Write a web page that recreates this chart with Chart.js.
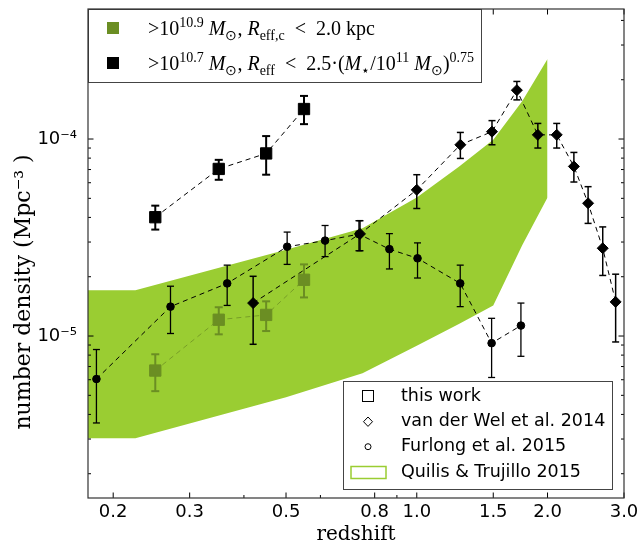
<!DOCTYPE html>
<html>
<head>
<meta charset="utf-8">
<script src="https://cdn.jsdelivr.net/npm/chart.js@4/dist/chart.umd.min.js"></script>
<style>
  html, body { margin: 0; padding: 0; background: #fff; }
</style>
</head>
<body>
<canvas id="myChart" width="640" height="547"></canvas>
<script>
// this work, > 10^10.7 Msun, Reff < 2.5 (M/1e11)^0.75
var workZ = [0.25, 0.35, 0.45, 0.55];
var workN = [4.01e-5, 7.05e-5, 8.45e-5, 1.42e-4];
var workLo = [3.47e-5, 6.21e-5, 6.59e-5, 1.19e-4];
var workHi = [4.59e-5, 7.84e-5, 1.035e-4, 1.655e-4];

// this work, > 10^10.9 Msun, Reff,c < 2 kpc
var massZ = [0.25, 0.35, 0.45, 0.55];
var massN = [6.68e-6, 1.21e-5, 1.28e-5, 1.93e-5];
var massLo = [5.25e-6, 1.02e-5, 1.06e-5, 1.57e-5];
var massHi = [8.08e-6, 1.40e-5, 1.50e-5, 2.31e-5];

// van der Wel et al. 2014
var vdwZ = [0.42, 0.74, 1.0, 1.26, 1.49, 1.70, 1.90, 2.10, 2.30, 2.48, 2.68, 2.87];
var vdwN = [1.47e-5, 3.30e-5, 5.52e-5, 9.35e-5, 1.09e-4, 1.77e-4, 1.05e-4, 1.05e-4, 7.26e-5, 4.72e-5, 2.79e-5, 1.49e-5];
var vdwLo = [9.08e-6, 2.71e-5, 4.44e-5, 7.97e-5, 9.35e-5, 1.58e-4, 9.0e-5, 9.0e-5, 6.05e-5, 3.73e-5, 2.03e-5, 9.33e-6];
var vdwHi = [2.01e-5, 3.85e-5, 6.59e-5, 1.08e-4, 1.24e-4, 1.96e-4, 1.20e-4, 1.20e-4, 8.55e-5, 5.73e-5, 3.58e-5, 2.06e-5];

// Furlong et al. 2015 (EAGLE)
var furZ = [0.183, 0.271, 0.366, 0.503, 0.615, 0.736, 0.865, 1.004, 1.259, 1.487, 1.737];
var furN = [6.05e-6, 1.41e-5, 1.85e-5, 2.84e-5, 3.05e-5, 3.29e-5, 2.76e-5, 2.48e-5, 1.85e-5, 9.2e-6, 1.13e-5];
var furLo = [3.62e-6, 1.03e-5, 1.43e-5, 2.31e-5, 2.53e-5, 2.71e-5, 2.19e-5, 1.97e-5, 1.41e-5, 6.16e-6, 7.89e-6];
var furHi = [8.54e-6, 1.79e-5, 2.29e-5, 3.37e-5, 3.64e-5, 3.85e-5, 3.31e-5, 2.97e-5, 2.29e-5, 1.23e-5, 1.47e-5];

// Quilis & Trujillo 2015 band
var qtZ = [0.1, 0.225, 0.5, 0.75, 1.0, 1.25, 1.5, 1.75, 2.0];
var qtHi = [1.71e-5, 1.71e-5, 2.74e-5, 3.52e-5, 5.05e-5, 7.24e-5, 9.92e-5, 1.56e-4, 2.55e-4];
var qtLo = [3.03e-6, 3.03e-6, 4.89e-6, 6.47e-6, 8.92e-6, 1.15e-5, 1.43e-5, 2.9e-5, 5.05e-5];

var xTicks = [0.2, 0.3, 0.5, 0.8, 1.0, 1.5, 2.0, 3.0];
var xTickLabels = ['0.2', '0.3', '0.5', '0.8', '1.0', '1.5', '2.0', '3.0'];
var xMinor = [0.4, 0.6, 0.9];
var yTicks = [1e-5, 1e-4];
var yTickLabels = ['10\u207B\u2075', '10\u207B\u2074'];

function pts(xs, ys) {
  return xs.map(function (x, i) { return { x: x, y: ys[i] }; });
}

var olive = '#6b8e23';
var band = '#9acd32';

var errSets = [
  { z: furZ, lo: furLo, hi: furHi, color: '#000', lw: 1.3, cap: 3.5 },
  { z: vdwZ, lo: vdwLo, hi: vdwHi, color: '#000', lw: 1.5, cap: 3.5 },
  { z: massZ, lo: massLo, hi: massHi, color: olive, lw: 2, cap: 4 },
  { z: workZ, lo: workLo, hi: workHi, color: '#000', lw: 2, cap: 4 }
];

function line(ctx, x1, y1, x2, y2) {
  ctx.beginPath(); ctx.moveTo(x1, y1); ctx.lineTo(x2, y2); ctx.stroke();
}

// error bars, drawn just above the band and below the markers
var errorBars = {
  id: 'errorBars',
  afterDatasetDraw: function (chart, args) {
    if (args.index !== 4) return;
    var ctx = chart.ctx, xs = chart.scales.x, ys = chart.scales.y;
    ctx.save();
    errSets.forEach(function (s) {
      ctx.strokeStyle = s.color;
      ctx.lineWidth = s.lw;
      s.z.forEach(function (z, i) {
        var px = xs.getPixelForValue(z);
        var y1 = ys.getPixelForValue(s.lo[i]);
        var y2 = ys.getPixelForValue(s.hi[i]);
        line(ctx, px, y1, px, y2);
        line(ctx, px - s.cap, y1, px + s.cap, y1);
        line(ctx, px - s.cap, y2, px + s.cap, y2);
      });
    });
    ctx.restore();
  }
};

function rich(ctx, x, y, parts) {
  parts.forEach(function (p) {
    var k = p[1], size = 20, dy = 0, st = '';
    if (k === 'i') st = 'italic ';
    if (k === 'sup') { size = 14; dy = -8; }
    if (k === 'sub') { size = 14; dy = 5; }
    ctx.font = st + size + 'px "Liberation Serif", serif';
    ctx.fillText(p[0], x, y + dy);
    x += ctx.measureText(p[0]).width;
  });
}

var frame = {
  id: 'frame',
  afterDraw: function (chart) {
    var ctx = chart.ctx, a = chart.chartArea, xs = chart.scales.x, ys = chart.scales.y;
    ctx.save();
    ctx.strokeStyle = '#000';
    ctx.lineWidth = 1;
    // inward ticks on all four sides
    xTicks.forEach(function (v) {
      var p = xs.getPixelForValue(v);
      line(ctx, p, a.bottom, p, a.bottom - 5.5);
      line(ctx, p, a.top, p, a.top + 5.5);
    });
    xMinor.forEach(function (v) {
      var p = xs.getPixelForValue(v);
      line(ctx, p, a.bottom, p, a.bottom - 3);
      line(ctx, p, a.top, p, a.top + 3);
    });
    [1e-6, 1e-5, 1e-4].forEach(function (dec) {
      for (var m = 1; m < 10; m++) {
        var v = dec * m;
        if (v < ys.min || v > ys.max) continue;
        var p = ys.getPixelForValue(v);
        var len = m === 1 ? 5.5 : 3;
        line(ctx, a.left, p, a.left + len, p);
        line(ctx, a.right, p, a.right - len, p);
      }
    });

    // upper legend
    ctx.fillStyle = '#fff';
    ctx.strokeStyle = '#444';
    ctx.fillRect(a.left, a.top, 393, 73);
    ctx.strokeRect(a.left + 0.5, a.top + 0.5, 393, 73);
    ctx.fillStyle = olive;
    ctx.fillRect(107, 22, 12, 12);
    ctx.fillStyle = '#000';
    ctx.fillRect(107, 57, 12, 12);
    ctx.textBaseline = 'alphabetic';
    ctx.textAlign = 'left';
    rich(ctx, 148, 35, [['>', 'n'], ['10', 'n'], ['10.9', 'sup'], [' ', 'n'], ['M', 'i'], ['\u2299', 'sub'],
      [', ', 'n'], ['R', 'i'], ['eff,c', 'sub'], ['  <  ', 'n'], ['2.0 kpc', 'n']]);
    rich(ctx, 148, 70, [['>', 'n'], ['10', 'n'], ['10.7', 'sup'], [' ', 'n'], ['M', 'i'], ['\u2299', 'sub'],
      [', ', 'n'], ['R', 'i'], ['eff', 'sub'], ['  <  ', 'n'], ['2.5\u00B7(', 'n'], ['M', 'i'], ['\u22C6', 'sub'],
      ['/10', 'n'], ['11', 'sup'], [' ', 'n'], ['M', 'i'], ['\u2299', 'sub'], [')', 'n'], ['0.75', 'sup']]);

    // lower legend
    ctx.fillStyle = '#fff';
    ctx.strokeStyle = '#444';
    ctx.fillRect(343, 381, 270, 109);
    ctx.strokeRect(343.5, 381.5, 269, 108);
    ctx.strokeStyle = '#000';
    ctx.lineWidth = 1;
    ctx.strokeRect(362.5, 390.5, 11, 11);
    ctx.beginPath();
    ctx.moveTo(368, 417); ctx.lineTo(372.5, 421.7); ctx.lineTo(368, 426.4); ctx.lineTo(363.5, 421.7);
    ctx.closePath(); ctx.stroke();
    ctx.beginPath(); ctx.arc(368, 446.7, 3, 0, Math.PI * 2); ctx.stroke();
    ctx.strokeStyle = band;
    ctx.lineWidth = 1.5;
    ctx.strokeRect(351, 466.5, 35, 12);
    ctx.fillStyle = '#000';
    ctx.textBaseline = 'middle';
    ctx.font = '17.5px "DejaVu Sans"';
    ctx.fillText('this work', 401, 396);
    ctx.fillText('van der Wel et al. 2014', 401, 421.7);
    ctx.fillText('Furlong et al. 2015', 401, 446.7);
    ctx.fillText('Quilis & Trujillo 2015', 401, 472.3);

    // axes frame
    ctx.strokeStyle = '#333';
    ctx.lineWidth = 1.2;
    ctx.strokeRect(a.left, a.top, a.right - a.left, a.bottom - a.top);
    ctx.restore();
  }
};

var ctx = document.getElementById('myChart').getContext('2d');
var myChart = new Chart(ctx, {
  type: 'line',
  data: {
    datasets: [
      {
        label: 'this work >10^10.7',
        data: pts(workZ, workN),
        borderColor: '#000', borderWidth: 1, borderDash: [5, 4],
        pointStyle: 'rect', pointRadius: 8, pointBackgroundColor: '#000', pointBorderColor: '#000', pointBorderWidth: 1,
        fill: false, order: 1
      },
      {
        label: 'this work >10^10.9',
        data: pts(massZ, massN),
        borderColor: 'rgba(107,142,35,0.75)', borderWidth: 1, borderDash: [5, 4],
        pointStyle: 'rect', pointRadius: 8, pointBackgroundColor: olive, pointBorderColor: olive, pointBorderWidth: 1,
        fill: false, order: 2
      },
      {
        label: 'van der Wel et al. 2014',
        data: pts(vdwZ, vdwN),
        borderColor: '#000', borderWidth: 1, borderDash: [5, 4],
        pointStyle: 'rectRot', pointRadius: 5.5, pointBackgroundColor: '#000', pointBorderColor: '#000', pointBorderWidth: 1,
        fill: false, order: 3
      },
      {
        label: 'Furlong et al. 2015',
        data: pts(furZ, furN),
        borderColor: '#000', borderWidth: 1, borderDash: [5, 4],
        pointStyle: 'circle', pointRadius: 3.8, pointBackgroundColor: '#000', pointBorderColor: '#000', pointBorderWidth: 1,
        fill: false, order: 4
      },
      {
        label: 'Quilis & Trujillo 2015',
        data: pts(qtZ, qtHi),
        borderColor: 'rgba(0,0,0,0)', borderWidth: 0.01, pointRadius: 0,
        backgroundColor: band, fill: '+1', order: 10
      },
      {
        label: 'Quilis & Trujillo 2015 low',
        data: pts(qtZ, qtLo),
        borderColor: 'rgba(0,0,0,0)', borderWidth: 0.01, pointRadius: 0,
        fill: false, order: 11
      }
    ]
  },
  options: {
    responsive: false,
    animation: false,
    devicePixelRatio: 1,
    layout: { padding: { top: 8, right: 16, left: 0, bottom: 0 } },
    plugins: { legend: { display: false }, tooltip: { enabled: false } },
    scales: {
      x: {
        type: 'logarithmic', min: 0.175, max: 3.0, bounds: 'data',
        grid: { display: false, drawTicks: false },
        border: { display: false },
        afterBuildTicks: function (s) { s.ticks = xTicks.map(function (v) { return { value: v }; }); },
        afterFit: function (s) { s.height = 49; s.paddingLeft = 0; s.paddingRight = 0; },
        ticks: {
          autoSkip: false, maxRotation: 0, padding: 4, color: '#000',
          font: { family: 'DejaVu Sans', size: 18 },
          callback: function (v, i) { return xTickLabels[i]; }
        },
        title: {
          display: true, text: 'redshift', color: '#000',
          font: { family: 'DejaVu Serif', size: 20 }, padding: { top: 0, bottom: 0 }
        }
      },
      y: {
        type: 'logarithmic', min: 1.506e-6, max: 4.571e-4, bounds: 'data',
        grid: { display: false, drawTicks: false },
        border: { display: false },
        afterBuildTicks: function (s) { s.ticks = yTicks.map(function (v) { return { value: v }; }); },
        afterFit: function (s) { s.width = 88; s.paddingTop = 0; s.paddingBottom = 0; },
        ticks: {
          padding: 11, color: '#000',
          font: { family: 'DejaVu Sans', size: 18 },
          callback: function (v, i) { return yTickLabels[i]; }
        },
        title: {
          display: true, text: 'number density (Mpc\u207B\u00B3 )           ', color: '#000',
          font: { family: 'DejaVu Serif', size: 22 }, padding: { top: 11, bottom: 0 }
        }
      }
    }
  },
  plugins: [errorBars, frame]
});
</script>
</body>
</html>
